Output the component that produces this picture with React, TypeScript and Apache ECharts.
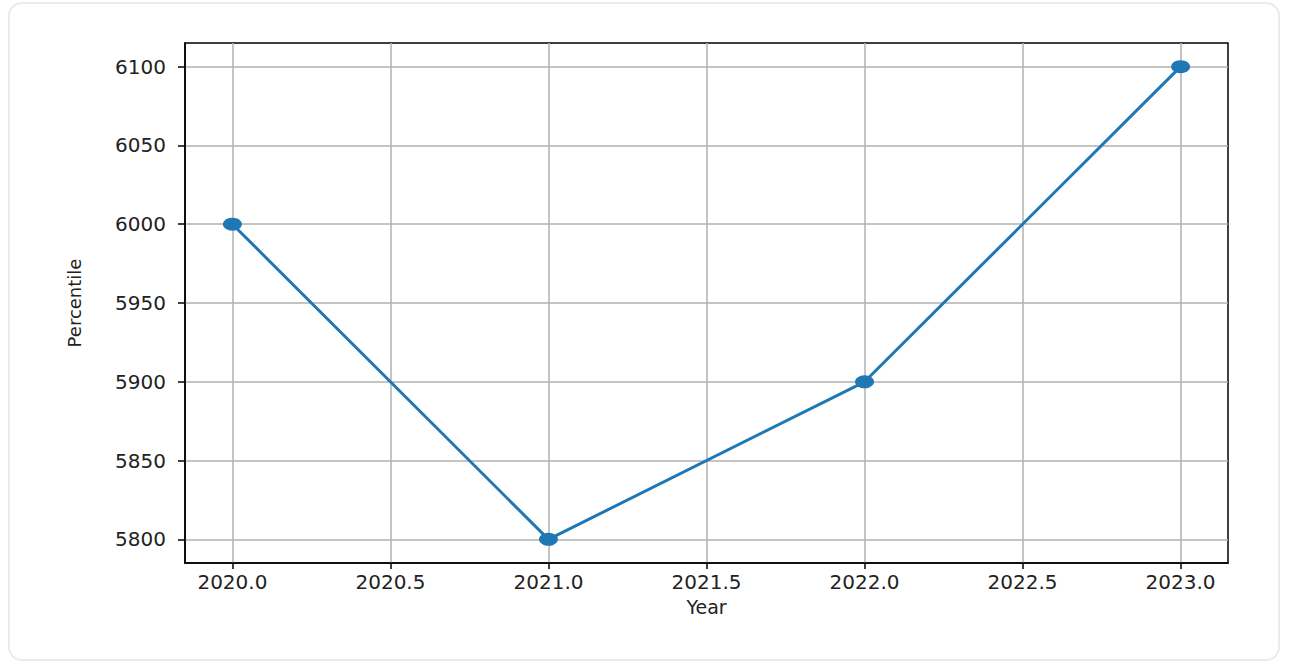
import * as echarts from "echarts";
import { useEffect, useRef } from "react";

const years = [2020, 2021, 2022, 2023];
const percentiles = [6000, 5800, 5900, 6100];
const xTicks = [2020, 2020.5, 2021, 2021.5, 2022, 2022.5, 2023];
const yTicks = [5800, 5850, 5900, 5950, 6000, 6050, 6100];

const App = () => {
  const chartRef = useRef<HTMLDivElement>(null);

  useEffect(() => {
    if (!chartRef.current) return;
    const myChart = echarts.init(chartRef.current, undefined, { renderer: "svg" });

    const tickFont = { fontFamily: "DejaVu Sans", fontSize: 20, color: "#222" };

    myChart.setOption({
      animation: false,
      grid: {
        left: 185,
        top: 43,
        width: 1043,
        height: 520,
        show: true,
        borderColor: "#000",
        borderWidth: 1.5,
      },
      xAxis: {
        type: "value",
        min: 2019.85,
        max: 2023.15,
        name: "Year",
        nameLocation: "middle",
        nameGap: 34,
        nameTextStyle: { fontFamily: "DejaVu Sans", fontSize: 19, color: "#222" },
        axisLine: { show: true, lineStyle: { color: "#000", width: 1.5 } },
        axisTick: {
          show: true,
          length: 6,
          customValues: xTicks,
          lineStyle: { color: "#000", width: 1.5 },
        },
        axisLabel: {
          ...tickFont,
          margin: 9,
          customValues: xTicks,
          formatter: (v: number) => v.toFixed(1),
        },
        splitLine: { show: true, lineStyle: { color: "#b0b0b0", width: 1.5 } },
      },
      yAxis: {
        type: "value",
        min: 5785,
        max: 6115,
        name: "Percentile",
        nameLocation: "middle",
        nameGap: 102,
        nameTextStyle: { fontFamily: "DejaVu Sans", fontSize: 18, color: "#222" },
        axisLine: { show: true, lineStyle: { color: "#000", width: 1.5 } },
        axisTick: {
          show: true,
          length: 7,
          customValues: yTicks,
          lineStyle: { color: "#000", width: 1.5 },
        },
        axisLabel: {
          ...tickFont,
          margin: 19,
          customValues: yTicks,
          formatter: (v: number) => String(v),
        },
        splitLine: { show: true, lineStyle: { color: "#b0b0b0", width: 1.5 } },
      },
      series: [
        {
          type: "line",
          data: years.map((y, i) => [y, percentiles[i]]),
          symbol: "circle",
          symbolSize: [19, 13],
          lineStyle: { color: "#1f77b4", width: 3 },
          itemStyle: { color: "#1f77b4" },
        },
      ],
    });

    return () => {
      myChart.dispose();
    };
  }, []);

  return (
    <div>
      <div
        style={{
          position: "absolute",
          left: 8,
          top: 2,
          width: 1272,
          height: 659,
          border: "2px solid #ebebeb",
          borderRadius: 14,
          boxSizing: "border-box",
          background: "#fff",
        }}
      />
      <div
        ref={chartRef}
        style={{ position: "absolute", left: 0, top: 0, width: "1296px", height: "668px" }}
      />
    </div>
  );
};

export default App;
